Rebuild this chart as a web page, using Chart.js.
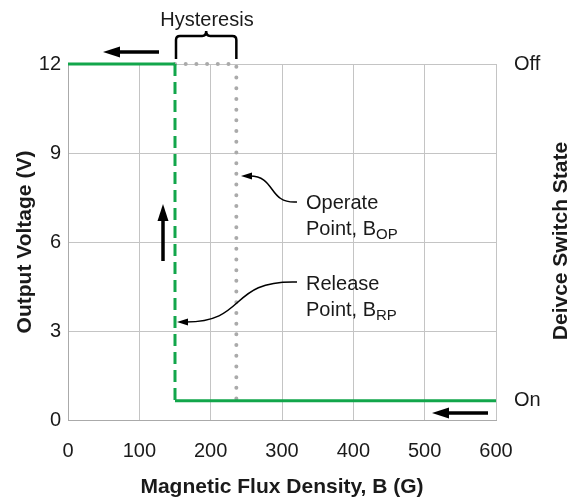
<!DOCTYPE html>
<html>
<head>
<meta charset="utf-8">
<script src="https://cdn.jsdelivr.net/npm/chart.js@4.4.0/dist/chart.umd.min.js"></script>
<style>
  body { margin: 0; background: #fff; }
  #wrap { width: 573px; height: 500px; }
</style>
</head>
<body>
<div id="wrap"><canvas id="hystChart"></canvas></div>
<script>
// values
const offGauss = [0, 150];
const offVolts = [12, 12];
const switchGauss = [150, 150];
const switchVolts = [12, 0.65];
const onGauss = [150, 600];
const onVolts = [0.65, 0.65];
const hystGauss = [150, 236, 236];
const hystVolts = [12, 12, 0.65];
const stateLevels = [12, 0.65];
const stateLabels = ['Off', 'On'];

const FONT = "'Liberation Sans', Arial, sans-serif";
const GREEN = '#12a64b';
const GREY_DOT = '#aaaaaa';
const TEXT = '#1a1a1a';

function toPoints(xs, ys) {
  return xs.map((x, i) => ({ x: x, y: ys[i] }));
}

function arrowHead(ctx, x, y, ang, len, w) {
  const bx = x - len * Math.cos(ang), by = y - len * Math.sin(ang);
  ctx.beginPath();
  ctx.moveTo(x, y);
  ctx.lineTo(bx + w * Math.sin(ang), by - w * Math.cos(ang));
  ctx.lineTo(bx - w * Math.sin(ang), by + w * Math.cos(ang));
  ctx.closePath();
  ctx.fill();
}

function arrow(ctx, x1, y1, x2, y2) {
  // shaft from (x1,y1) to the tip at (x2,y2)
  const ang = Math.atan2(y2 - y1, x2 - x1);
  const headLen = 17;
  ctx.beginPath();
  ctx.moveTo(x1, y1);
  ctx.lineTo(x2 - (headLen - 2) * Math.cos(ang), y2 - (headLen - 2) * Math.sin(ang));
  ctx.lineWidth = 3.5;
  ctx.stroke();
  arrowHead(ctx, x2, y2, ang, headLen, 5.5);
}

function subLabel(ctx, x, y, main, sub) {
  ctx.font = '20px ' + FONT;
  ctx.fillText(main, x, y);
  const w = ctx.measureText(main).width;
  ctx.font = '15px ' + FONT;
  ctx.fillText(sub, x + w, y + 6);
}

const annotations = {
  id: 'annotations',
  afterDraw(chart) {
    const ctx = chart.ctx;
    const xs = chart.scales.x;
    ctx.save();
    ctx.fillStyle = '#000';
    ctx.strokeStyle = '#000';
    ctx.lineCap = 'butt';

    // direction arrows
    arrow(ctx, 159, 52, 103, 52);
    arrow(ctx, 163, 261, 163, 204);
    arrow(ctx, 488, 413, 432, 413);

    // hysteresis bracket
    const bl = xs.getPixelForValue(hystGauss[0]) + 1;
    const br = xs.getPixelForValue(hystGauss[1]);
    const bm = (bl + br) / 2;
    ctx.lineWidth = 2.5;
    ctx.beginPath();
    ctx.moveTo(bl, 59);
    ctx.lineTo(bl, 40);
    ctx.quadraticCurveTo(bl, 36, bl + 4, 36);
    ctx.lineTo(bm - 4, 36);
    ctx.quadraticCurveTo(bm, 36, bm, 31);
    ctx.quadraticCurveTo(bm, 36, bm + 4, 36);
    ctx.lineTo(br - 4, 36);
    ctx.quadraticCurveTo(br, 36, br, 40);
    ctx.lineTo(br, 59);
    ctx.stroke();

    ctx.fillStyle = TEXT;
    ctx.font = '20px ' + FONT;
    ctx.textAlign = 'center';
    ctx.textBaseline = 'middle';
    ctx.fillText('Hysteresis', 207, 20);

    // callout curves
    ctx.fillStyle = '#000';
    ctx.lineWidth = 1.5;
    ctx.beginPath();
    ctx.moveTo(297, 202);
    ctx.bezierCurveTo(268, 204, 276, 176, 250, 176);
    ctx.stroke();
    arrowHead(ctx, 241, 176, Math.PI, 11, 3.5);

    ctx.beginPath();
    ctx.moveTo(297, 282);
    ctx.bezierCurveTo(228, 280, 248, 322, 186, 322);
    ctx.stroke();
    arrowHead(ctx, 177, 322, Math.PI, 11, 3.5);

    ctx.fillStyle = TEXT;
    ctx.textAlign = 'left';
    ctx.textBaseline = 'middle';
    ctx.font = '20px ' + FONT;
    ctx.fillText('Operate', 306, 203);
    subLabel(ctx, 306, 229, 'Point, B', 'OP');
    ctx.font = '20px ' + FONT;
    ctx.fillText('Release', 306, 284);
    subLabel(ctx, 306, 310, 'Point, B', 'RP');

    // right axis title, reads bottom to top
    ctx.save();
    ctx.translate(561, 241);
    ctx.rotate(-Math.PI / 2);
    ctx.textAlign = 'center';
    ctx.font = 'bold 21px ' + FONT;
    ctx.fillText('Deivce Switch State', 0, 0);
    ctx.restore();

    ctx.restore();
  }
};

const lineBase = { pointRadius: 0, fill: false, clip: false, tension: 0 };

new Chart(document.getElementById('hystChart'), {
  type: 'line',
  data: {
    datasets: [
      Object.assign({ data: toPoints(offGauss, offVolts), borderColor: GREEN, borderWidth: 3 }, lineBase),
      Object.assign({ data: toPoints(switchGauss, switchVolts), borderColor: GREEN, borderWidth: 3, borderDash: [12, 6] }, lineBase),
      Object.assign({ data: toPoints(onGauss, onVolts), borderColor: GREEN, borderWidth: 3 }, lineBase),
      Object.assign({
        data: toPoints(hystGauss, hystVolts),
        borderColor: GREY_DOT,
        borderWidth: 4,
        borderDash: [0, 10.7],
        borderCapStyle: 'round'
      }, lineBase)
    ]
  },
  options: {
    responsive: true,
    maintainAspectRatio: false,
    animation: false,
    layout: { padding: { top: 64, left: 0, right: 0, bottom: 0 } },
    plugins: {
      legend: { display: false },
      tooltip: { enabled: false }
    },
    scales: {
      x: {
        type: 'linear',
        min: 0,
        max: 600,
        ticks: { stepSize: 100, padding: 19, color: TEXT, font: { family: FONT, size: 20 } },
        grid: { color: '#c4c4c4', drawTicks: false },
        border: { color: '#aaaaaa' },
        title: {
          display: true,
          text: 'Magnetic Flux Density, B (G)',
          color: TEXT,
          font: { family: FONT, size: 21, weight: 'bold' },
          padding: { top: -3.6, bottom: 0 }
        },
        afterFit(scale) { scale.height = 80; }
      },
      y: {
        position: 'left',
        min: 0,
        max: 12,
        ticks: { stepSize: 3, padding: 7, color: TEXT, font: { family: FONT, size: 20 } },
        grid: { color: '#c4c4c4', drawTicks: false },
        border: { color: '#aaaaaa' },
        title: {
          display: true,
          text: 'Output Voltage (V)',
          color: TEXT,
          font: { family: FONT, size: 21, weight: 'bold' },
          padding: { top: 12.5, bottom: 0 }
        },
        afterFit(scale) { scale.width = 68; }
      },
      y2: {
        position: 'right',
        min: 0,
        max: 12,
        afterBuildTicks(scale) {
          scale.ticks = stateLevels.map(v => ({ value: v }));
        },
        ticks: {
          padding: 18,
          color: TEXT,
          font: { family: FONT, size: 20 },
          callback: (v, i) => stateLabels[i]
        },
        grid: { display: false, drawTicks: false },
        border: { display: false },
        afterFit(scale) { scale.width = 77; }
      }
    }
  },
  plugins: [annotations]
});
</script>
</body>
</html>
